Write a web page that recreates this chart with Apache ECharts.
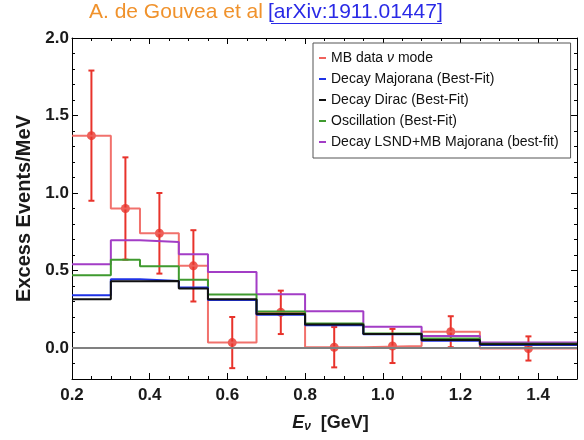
<!DOCTYPE html>
<html>
<head>
<meta charset="utf-8">
<script src="https://cdn.jsdelivr.net/npm/echarts@6/dist/echarts.min.js"></script>
<style>
  html, body { margin: 0; padding: 0; background: #fff; }
  #chart { width: 584px; height: 440px; }
</style>
</head>
<body>
<div id="chart"></div>
<script>
// MiniBooNE neutrino-mode bin edges (GeV)
const binEdges = [0.2, 0.3, 0.375, 0.475, 0.55, 0.675, 0.8, 0.95, 1.1, 1.25, 1.5];

// Observed excess (events/MeV) and its uncertainty, one per bin
const dataValues = [1.37, 0.90, 0.74, 0.53, 0.035, 0.23, 0.005, 0.013, 0.105, -0.003];
const dataErrors = [0.42, 0.33, 0.26, 0.23, 0.165, 0.14, 0.13, 0.11, 0.10, 0.078];

// Model predictions per bin
const majoranaValues = [0.34, 0.444, 0.433, 0.39, 0.31, 0.215, 0.147, 0.088, 0.047, 0.019];
const diracValues    = [0.315, 0.43, 0.433, 0.384, 0.315, 0.22, 0.152, 0.09, 0.052, 0.025];
const oscValues      = [0.47, 0.57, 0.527, 0.44, 0.345, 0.236, 0.158, 0.094, 0.062, 0.028];
const lsndValues     = [0.54, 0.695, 0.684, 0.605, 0.49, 0.347, 0.237, 0.137, 0.077, 0.036];

// Tick labels
const xTickLabels = [0.2, 0.4, 0.6, 0.8, 1.0, 1.2, 1.4];
const yTickLabels = [0.0, 0.5, 1.0, 1.5, 2.0];

const seriesNames = [
  'MB data ν mode',
  'Decay Majorana (Best-Fit)',
  'Decay Dirac (Best-Fit)',
  'Oscillation (Best-Fit)',
  'Decay LSND+MB Majorana (best-fit)'
];

const FONT = '"Liberation Sans", Arial, Helvetica, sans-serif';
const RED = '#e8332b';
const RED_HIST = '#f0625c';
const BLUE = '#1f33e6';
const BLACK = '#111111';
const GREEN = '#3f9a2f';
const PURPLE = '#a33dc6';

// minor tick positions
const xMinor = [];
for (let k = 5; k <= 29; k++) if (k % 4 !== 0) xMinor.push(k / 20);
const yMinor = [];
for (let k = -1; k <= 19; k++) if (k % 5 !== 0) yMinor.push(k / 10);

// step outline: one point per left edge, plus the closing right edge
function stepPoints(values) {
  return binEdges.map((e, i) => [e, values[Math.min(i, values.length - 1)]]);
}
const centers = binEdges.slice(0, -1).map((e, i) => (e + binEdges[i + 1]) / 2);

function xAxis(position, ticks, len, labels, line) {
  return {
    type: 'value', position: position, min: 0.2, max: 1.5,
    splitLine: { show: false },
    axisLine: { show: line, onZero: false, lineStyle: { color: '#000', width: 1 } },
    axisTick: { show: true, inside: true, length: len, customValues: ticks,
                lineStyle: { color: '#000', width: 1 } },
    axisLabel: labels ? {
      show: true, customValues: xTickLabels, margin: 8,
      formatter: v => v.toFixed(1),
      fontFamily: FONT, fontWeight: 'bold', fontSize: 17, color: '#1a1a1a'
    } : { show: false }
  };
}
function yAxis(position, ticks, len, labels, line) {
  return {
    type: 'value', position: position, min: -0.2, max: 2.0,
    splitLine: { show: false },
    axisLine: { show: line, onZero: false, lineStyle: { color: '#000', width: 1 } },
    axisTick: { show: true, inside: true, length: len, customValues: ticks,
                lineStyle: { color: '#000', width: 1 } },
    axisLabel: labels ? {
      show: true, customValues: yTickLabels, margin: 3,
      formatter: v => v.toFixed(1),
      fontFamily: FONT, fontWeight: 'bold', fontSize: 17, color: '#1a1a1a'
    } : { show: false }
  };
}

const xAxes = [
  Object.assign(xAxis('bottom', xTickLabels, 6, true, true), {
    name: '{e|E}{s|ν}{n|  [GeV]}',
    nameLocation: 'middle', nameGap: 34,
    nameTextStyle: {
      padding: [0, 0, 0, 12],
      rich: {
        e: { fontFamily: FONT, fontWeight: 'bold', fontStyle: 'italic', fontSize: 18, color: '#1a1a1a' },
        s: { fontFamily: FONT, fontWeight: 'bold', fontStyle: 'italic', fontSize: 12, color: '#1a1a1a', padding: [8, 0, 0, 0] },
        n: { fontFamily: FONT, fontWeight: 'bold', fontSize: 18, color: '#1a1a1a' }
      }
    }
  }),
  xAxis('bottom', xMinor, 3, false, false),
  xAxis('top', xTickLabels, 6, false, true),
  xAxis('top', xMinor, 3, false, false)
];
const yAxes = [
  Object.assign(yAxis('left', yTickLabels, 6, true, true), {
    name: 'Excess Events/MeV',
    nameLocation: 'middle', nameGap: 31, nameRotate: 90,
    nameTextStyle: { fontFamily: FONT, fontWeight: 'bold', fontSize: 20, color: '#1a1a1a' }
  }),
  yAxis('left', yMinor, 3, false, false),
  yAxis('right', yTickLabels, 6, false, true),
  yAxis('right', yMinor, 3, false, false)
];

function stepSeries(name, values, color, width, opacity) {
  return {
    name: name, type: 'line', step: 'end',
    xAxisIndex: 0, yAxisIndex: 0,
    data: stepPoints(values),
    symbol: 'none', silent: true, animation: false,
    lineStyle: { color: color, width: width, opacity: opacity },
    itemStyle: { color: color }
  };
}

const option = {
  animation: false,
  backgroundColor: '#fff',
  grid: { left: 72, right: 7, top: 38, bottom: 61, containLabel: false },
  xAxis: xAxes,
  yAxis: yAxes,
  graphic: [
    {
      type: 'text', left: 89, top: 2,
      style: { text: 'A. de Gouvea et al', fill: '#f0922c', font: '21px ' + FONT }
    },
    {
      type: 'text', left: 268, top: 2,
      style: { text: '[arXiv:1911.01447]', fill: '#2a2ae6', font: '21px ' + FONT }
    },
    {
      type: 'line',
      shape: { x1: 271, y1: 23.5, x2: 442, y2: 23.5 },
      style: { stroke: '#2a2ae6', lineWidth: 1.2 }
    }
  ],
  legend: {
    orient: 'vertical', left: 313, top: 43,
    backgroundColor: '#fff', borderColor: '#555', borderWidth: 1,
    padding: [8, 12, 9, 6], itemGap: 7,
    icon: 'rect', itemWidth: 7, itemHeight: 2,
    data: seriesNames,
    formatter: n => n === seriesNames[0] ? '{n|MB data }{i|ν}{n| mode}' : n,
    textStyle: {
      fontFamily: FONT, fontSize: 14, color: '#111',
      rich: {
        n: { fontFamily: FONT, fontSize: 14, color: '#111' },
        i: { fontFamily: FONT, fontSize: 14, color: '#111', fontStyle: 'italic' }
      }
    }
  },
  series: [
    {
      name: 'zero', type: 'line', data: [], xAxisIndex: 0, yAxisIndex: 0,
      markLine: {
        silent: true, symbol: 'none', label: { show: false },
        lineStyle: { color: '#808080', width: 2, type: 'solid' },
        data: [{ yAxis: 0 }]
      }
    },
    stepSeries(seriesNames[0], dataValues, RED_HIST, 2, 0.9),
    stepSeries(seriesNames[4], lsndValues, PURPLE, 2, 1),
    stepSeries(seriesNames[3], oscValues, GREEN, 2, 1),
    stepSeries(seriesNames[1], majoranaValues, BLUE, 2, 1),
    stepSeries(seriesNames[2], diracValues, BLACK, 2, 1),
    {
      name: seriesNames[0], type: 'custom',
      xAxisIndex: 0, yAxisIndex: 0, silent: true,
      data: centers.map((c, i) => [c, dataValues[i] - dataErrors[i], dataValues[i] + dataErrors[i]]),
      renderItem: function (params, api) {
        const lo = api.coord([api.value(0), api.value(1)]);
        const hi = api.coord([api.value(0), api.value(2)]);
        const cap = 3;
        const st = { stroke: RED, lineWidth: 2 };
        return {
          type: 'group',
          children: [
            { type: 'line', shape: { x1: lo[0], y1: lo[1], x2: hi[0], y2: hi[1] }, style: st },
            { type: 'line', shape: { x1: lo[0] - cap, y1: lo[1], x2: lo[0] + cap, y2: lo[1] }, style: st },
            { type: 'line', shape: { x1: hi[0] - cap, y1: hi[1], x2: hi[0] + cap, y2: hi[1] }, style: st }
          ]
        };
      },
      itemStyle: { color: RED }
    },
    {
      name: seriesNames[0], type: 'scatter',
      xAxisIndex: 0, yAxisIndex: 0, silent: true,
      symbol: 'circle', symbolSize: 9,
      data: centers.map((c, i) => [c, dataValues[i]]),
      itemStyle: { color: RED }
    }
  ]
};

const chart = echarts.init(document.getElementById('chart'), null, { renderer: 'canvas' });
chart.setOption(option);
</script>
</body>
</html>
